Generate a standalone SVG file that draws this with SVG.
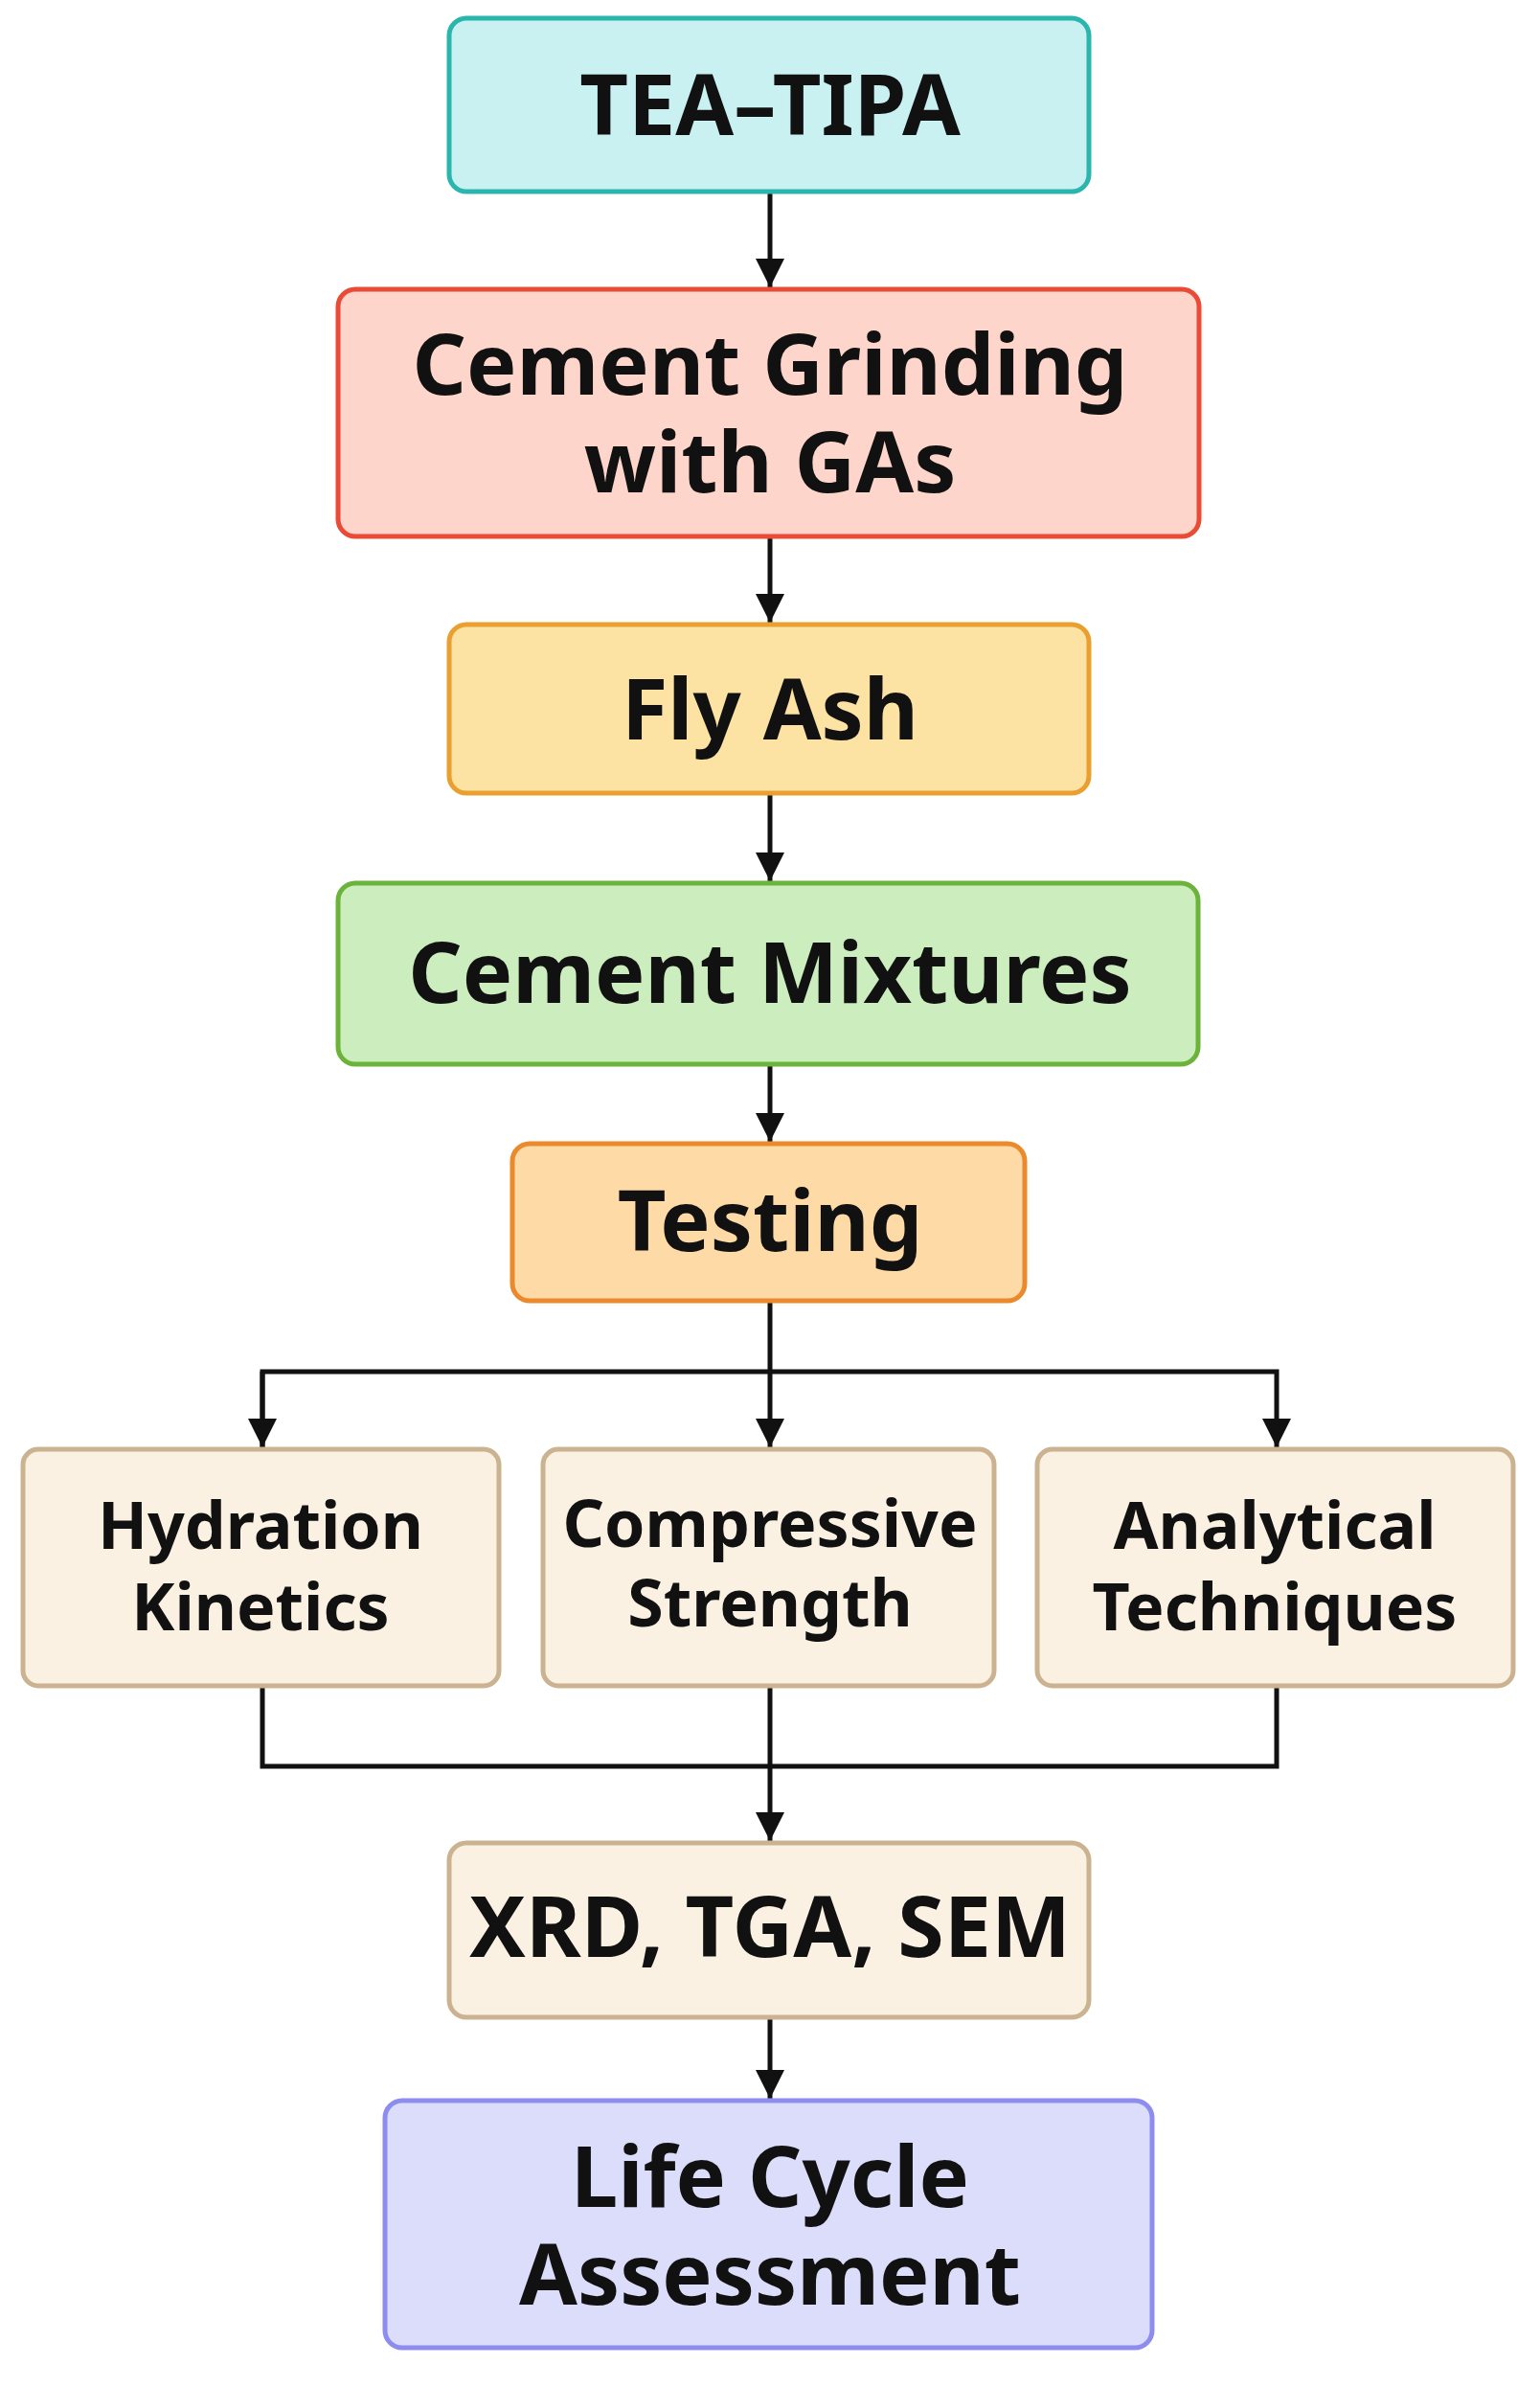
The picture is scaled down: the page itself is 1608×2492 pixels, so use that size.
<svg xmlns="http://www.w3.org/2000/svg" width="1608" height="2492" viewBox="0 0 1608 2492">
<style>
rect{stroke-width:5}
text{font-family:"Noto Sans","DejaVu Sans",sans-serif;font-weight:bold;text-anchor:middle;fill:#111}
.big{font-size:88px}
.sm{font-size:68px}
.c{stroke:#111;stroke-width:5;fill:none}
</style>
<defs><marker id="ah" viewBox="0 0 10 10" refX="10" refY="5" markerWidth="30" markerHeight="30" markerUnits="userSpaceOnUse" orient="auto"><path d="M0,0 L10,5 L0,10z" fill="#111"/></marker></defs>
<g id="connectors" class="c">
<path d="M804,200 V300" marker-end="url(#ah)"/>
<path d="M804,560 V650" marker-end="url(#ah)"/>
<path d="M804,828 V920" marker-end="url(#ah)"/>
<path d="M804,1111 V1192" marker-end="url(#ah)"/>
<path d="M804,1358 V1511" marker-end="url(#ah)"/>
<path d="M274,1511 V1432 H1333 V1511" marker-end="url(#ah)"/>
<path d="M274,1432 V1511" marker-end="url(#ah)"/>
<path d="M274,1760 V1844 H1333 V1760"/>
<path d="M804,1760 V1922" marker-end="url(#ah)"/>
<path d="M804,2106 V2191" marker-end="url(#ah)"/>
</g>
<g id="n1"><rect x="469" y="19" width="668" height="181" rx="18" fill="#c9f1f1" stroke="#2ab5ad"/><text class="big" x="804" y="141">TEA–TIPA</text></g>
<g id="n2"><rect x="353" y="302" width="899" height="258" rx="18" fill="#fdd5cb" stroke="#e94b36"/><text class="big" x="804" y="412">Cement Grinding</text><text class="big" x="804" y="514">with GAs</text></g>
<g id="n3"><rect x="469" y="652" width="668" height="176" rx="18" fill="#fde3a3" stroke="#e9a030"/><text class="big" x="804" y="772">Fly Ash</text></g>
<g id="n4"><rect x="353" y="922" width="898" height="189" rx="18" fill="#ccedbd" stroke="#6cb33b"/><text class="big" x="804" y="1047">Cement Mixtures</text></g>
<g id="n5"><rect x="535" y="1194" width="535" height="164" rx="18" fill="#fedaa7" stroke="#ea8a2c"/><text class="big" x="804" y="1306">Testing</text></g>
<g id="n6"><rect x="24" y="1513" width="497" height="247" rx="16" fill="#faf1e2" stroke="#cbb391"/><text class="sm" x="272" y="1617">Hydration</text><text class="sm" x="272" y="1702">Kinetics</text></g>
<g id="n7"><rect x="567" y="1513" width="471" height="247" rx="16" fill="#faf1e2" stroke="#cbb391"/><text class="sm" x="804" y="1615" font-size="60">Compressive</text><text class="sm" x="804" y="1698" font-size="60">Strength</text></g>
<g id="n8"><rect x="1083" y="1513" width="497" height="247" rx="16" fill="#faf1e2" stroke="#cbb391"/><text class="sm" x="1331" y="1617">Analytical</text><text class="sm" x="1331" y="1702">Techniques</text></g>
<g id="n9"><rect x="469" y="1924" width="668" height="182" rx="18" fill="#faf1e2" stroke="#cbb391"/><text class="big" x="804" y="2043" font-size="73">XRD, TGA, SEM</text></g>
<g id="n10"><rect x="402" y="2193" width="801" height="258" rx="18" fill="#dcdcfb" stroke="#8d8df0"/><text class="big" x="804" y="2304">Life Cycle</text><text class="big" x="804" y="2406">Assessment</text></g>
</svg>
